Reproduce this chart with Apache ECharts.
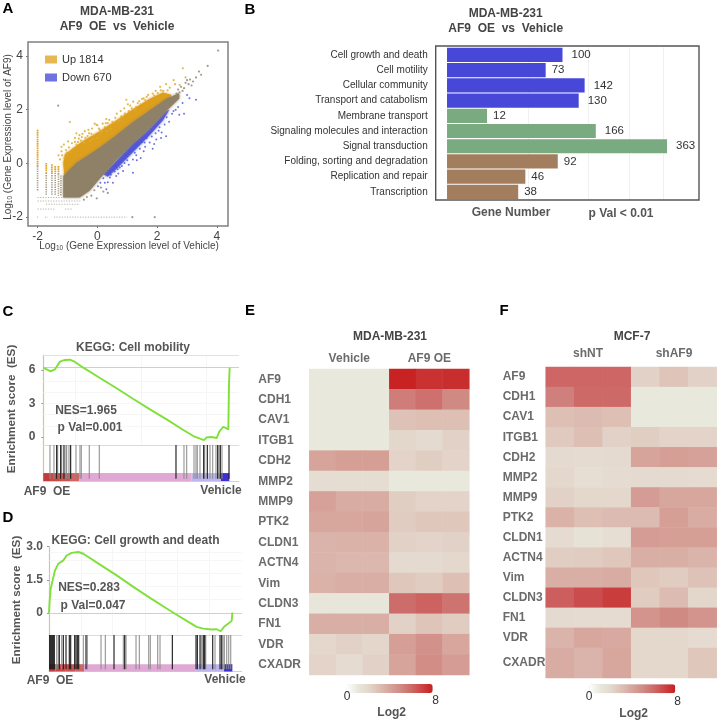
<!DOCTYPE html>
<html><head><meta charset="utf-8">
<script src="https://cdn.jsdelivr.net/npm/echarts@6/dist/echarts.min.js"></script>
<style>html,body{margin:0;padding:0;background:#fff}#c{width:718px;height:722px}</style></head>
<body><div id="c"></div>
<script>
// ---------- Panel A: dense clouds read as outlines, sparse dots read one by one
const goldCloud = [[-1.14,0.02],[-1.09,0.33],[-0.87,0.52],[-0.48,0.83],[0.08,1.2],[0.63,1.6],[1.19,2.02],[1.74,2.4],[2.19,2.64],[2.47,2.56],[2.4,2.3],[1.0,1.0],[-1.1,-0.5]];
const brownCloud = [[-1.14,-0.47],[-0.7,0.02],[-0.48,0.17],[0.08,0.58],[0.63,1.04],[1.19,1.53],[1.74,1.96],[2.3,2.4],[2.74,2.62],[2.74,2.42],[2.3,1.94],[1.74,1.28],[1.19,0.74],[0.63,0.12],[0.08,-0.57],[-0.26,-1.02],[-0.59,-1.27],[-1.14,-1.27]];
const blueCloud = [[0.2,-0.4],[1.19,0.74],[1.74,1.28],[2.3,1.94],[2.41,2.0],[2.19,1.6],[1.74,1.04],[1.19,0.42],[0.63,-0.22],[0.35,-0.5]];
const goldDots = [[-0.92,1.54],[-0.09,1.48],[-0.03,1.44],[0.3,1.65],[0.35,1.5],[0.5,1.55],[0.97,2.37],[1.02,2.2],[0.9,2.05],[1.2,2.3],[1.35,2.25],[1.5,2.4],[1.7,2.55],[1.85,2.6],[2.1,2.85],[2.2,2.7],[2.3,2.95],[2.55,3.1],[2.6,2.95],[2.86,3.54],[2.95,3.2],[-0.6,1.05],[-0.75,0.95],[-0.85,0.75],[-0.95,0.6],[-1.05,0.5],[-1.2,0.45],[-1.3,0.3],[-0.5,1.1],[-0.4,0.95],[-0.3,1.25],[-0.2,1.1],[-0.1,1.05],[0.05,1.3],[0.15,1.2],[0.25,1.35],[0.45,1.3],[0.6,1.7],[0.7,1.55],[0.8,1.75],[1.05,1.95],[1.15,2.05],[1.3,2.1],[1.45,2.2],[1.6,2.35],[1.95,2.7],[-0.65,0.8],[-0.8,0.55],[-0.55,0.85],[-1.0,0.3],[-0.25,0.85],[0.0,0.95],[0.3,1.2],[-0.9,0.42],[-0.7,0.7],[-0.45,0.78],[-0.15,0.92],[0.12,1.12],[0.42,1.42],[0.55,1.5],[0.75,1.62],[0.92,1.85],[1.28,2.0],[1.55,2.42],[2.02,2.62],[-1.25,0.15],[-1.1,0.2],[-1.2,0.62],[-1.12,0.7],[-0.98,0.82],[-0.7,1.12],[-0.62,0.92],[-0.42,1.2],[-0.33,1.02],[-0.18,1.3],[0.0,1.42],[0.18,1.48],[0.4,1.62],[0.65,1.85],[0.78,1.95],[0.85,1.72],[1.1,2.15],[1.4,2.32],[1.65,2.48],[1.9,2.52],[2.12,2.72],[2.35,2.72],[2.42,2.82],[2.75,2.92],[-1.18,0.3],[-1.02,0.4],[-0.75,0.8],[-0.52,0.98],[-0.28,1.12],[0.08,1.25],[0.28,1.5]];
const blueDots = [[2.13,0.95],[1.97,0.89],[3.3,2.37],[3.08,2.43],[2.74,1.81],[2.3,1.01],[1.19,0.15],[0.86,-0.28],[0.3,-0.96],[1.19,-0.35],[0.63,-0.47],[0.91,0.02],[0.52,-0.72],[0.42,-0.52],[0.2,-0.55],[0.1,-0.72],[0.75,-0.15],[0.7,-0.38],[1.05,-0.05],[1.3,0.3],[1.45,0.2],[1.6,0.62],[1.75,0.78],[1.85,0.55],[2.05,1.22],[2.25,1.45],[2.4,1.55],[2.55,1.95],[2.7,2.1],[2.85,2.25],[3.0,2.55],[0.95,0.3],[1.1,0.45],[1.5,0.8],[1.65,0.95],[0.6,-0.1],[0.35,-0.7],[0.02,-0.85],[2.15,1.15],[2.9,1.85],[0.45,-0.42],[0.58,-0.3],[0.82,-0.1],[1.0,0.12],[1.25,0.4],[1.42,0.55],[1.58,0.78],[1.82,1.0],[1.95,1.12],[2.08,1.35],[2.32,1.72],[2.5,1.85],[2.62,2.0],[0.25,-0.72],[0.68,-0.22],[1.32,0.12],[1.55,0.45],[1.9,0.72]];
const brownDots = [[-1.31,2.15],[4.04,4.2],[3.69,3.63],[3.47,3.3],[3.4,3.42],[3.3,3.2],[3.2,3.05],[3.1,3.12],[3.05,2.95],[2.95,3.0],[2.9,2.8],[2.8,2.85],[2.75,2.65],[2.7,2.75],[2.65,2.6],[3.0,3.1],[3.15,2.9],[2.85,2.7],[0.12,-0.9],[-0.1,-1.0],[-0.2,-1.2],[0.2,-1.05],[-0.35,-1.25],[1.17,-2.0],[1.92,-2.0],[0.35,-1.1],[-0.45,-1.35],[-0.02,-1.3]];
const columnsGold = [[-2,1.25,-0.1],[-1.71,0.02,-0.35],[-1.52,-0.03,-0.35],[-1.41,-0.1,-0.35],[-1.3,-0.1,-0.4]];
const columnsBrown = [[-2,-0.1,-1.02],[-1.71,-0.35,-1.2],[-1.52,-0.35,-1.2],[-1.41,-0.35,-1.2],[-1.3,-0.4,-1.2],[-1.22,-0.45,-1.2]];
const rowsBrown = [[-2,-1.27,-0.72],[-2,-1.4,-0.55],[-1.72,-1.52,-0.6],[-2,-1.7,-1.4],[-1.08,-1.7,-0.85],[-2.02,-2,-1.95],[-1.75,-2,-1.65],[-1.45,-2,1.0]];
const ticksA = [-2,0,2,4];
// ---------- Panel B
const pathways = ['Cell growth and death','Cell motility','Cellular community','Transport and catabolism','Membrane transport','Signaling molecules and interaction','Signal transduction','Folding, sorting and degradation','Replication and repair','Transcription'];
const geneCounts = [100,73,142,130,12,166,363,92,46,38];
const pathwayGroup = [0,0,0,0,1,1,1,2,2,2];
const barGridCounts = [50,150,250,350];
// ---------- Panels C and D (rank along the ordered gene list, enrichment score)
const curveC = [[0,6.19],[10,6.04],[22,5.86],[35,6.04],[42,6.37],[50,6.73],[65,6.88],[80,6.9],[95,6.7],[120,6.19],[170,5.27],[220,4.35],[270,3.39],[320,2.47],[370,1.58],[420,0.63],[450,0.09],[470,-0.15],[482,-0.27],[490,-0.03],[505,0],[520,-0.09],[528,0.48],[540,0.92],[555,0.68],[557,4.79],[559,6.19]];
const hitsDarkC = [40,52,62,82,398,481,492,523,531,557];
const hitsGrayC = [20,32,43,55,68,70,77,98,110,114,138,168,422,430,452,458,462,470,484,500,508,518,527,536];
const stripEdgesC = [0,20,50,80,108,445,533,558];
const curveD = [[0,0],[2,0.57],[5,1.1],[11,1.48],[18,1.93],[28,2.23],[43,2.38],[53,2.6],[68,2.72],[88,2.76],[103,2.68],[153,2.19],[203,1.7],[253,1.18],[303,0.68],[353,0.2],[383,-0.08],[413,-0.36],[443,-0.63],[463,-0.71],[488,-0.75],[503,-0.74],[515,-0.83],[525,-0.63],[538,-0.48],[548,-0.36],[550,0.02]];
const hitsDarkD = [1,4,7,10,13,16,31,43,51,61,65,77,81,85,89,111,195,227,370,441,445,453,464,467,491,513,518];
const hitsGrayD = [23,28,38,103,115,156,169,223,231,261,271,299,304,326,333,457,461,470,498,522,526,533,539,545];
const stripEdgesD = [0,20,50,80,105,440,525,550];
// ---------- Panels E and F (log2 expression)
const genes = ['AF9','CDH1','CAV1','ITGB1','CDH2','MMP2','MMP9','PTK2','CLDN1','ACTN4','Vim','CLDN3','FN1','VDR','CXADR'];
const samples = ['s1','s2','s3','s4','s5','s6'];
const matrixE = [[1,1,1,7.9,7.5,7.6],[1,1,1,5.4,5.8,5],[1,1,1,2.9,3,3],[1,1,1,2.1,1.9,2.3],[4,4.2,4.2,2.2,2.4,2.2],[1.7,1.7,1.7,1,1,1],[4.1,3.7,3.7,2.4,2.2,2.2],[3.9,3.9,4,2.5,2.7,2.7],[3.4,3.5,3.5,2.3,2.2,2.3],[3.4,3.3,3.3,1.9,1.9,2],[3.5,3.6,3.6,2.7,2.5,3],[1.1,1.1,1.1,5.9,6.2,5.7],[3.6,3.6,3.6,2.3,2.8,2.5],[2,2.3,2.1,4.2,4.7,3.9],[2.2,1.8,2.3,4,4.9,4.3]];
const matrixF = [[6.1,6.1,6.1,2.3,2.8,2.3],[5.3,6,6,1,1,1],[3,3.1,3,1,1,1],[2.6,3,2.3,2.4,2.2,2.2],[1.9,1.8,1.9,4,4.2,4.1],[2,1.6,1.8,1.9,1.9,1.8],[2.3,2,2,4.3,3.9,3.9],[3.5,3,3.1,3.1,4.2,3.7],[1.8,1.4,1.6,4.3,4.2,4.2],[2.4,2.5,2.7,3.6,3.6,3.4],[3.6,3.6,3.7,2.7,2.5,2.9],[6.3,6.8,7.2,2.5,3.1,2.1],[1.9,1.8,1.8,4.6,5,4.6],[3.4,3.9,3.8,2,2,1.8],[3.7,3.4,3.9,2,2,2.7]];

// ---------- Styles
const FONT = '"Liberation Sans", Arial, sans-serif';
const heatStops = ['#ffffff','#e8e8dc','#e4d8cd','#ddbfb4','#d6a49b','#d08a84','#cd6a68','#cb4545','#c81e1e'];
const stripPalette = ['#c23b3b','#c84848','#cc5252','#d26464','#e0a8d4','#bdb6ee','#3b2fd6'];
const barPalette = ['#4848d8','#7aab80','#a37e5e'];

const grids = [], xAxes = [], yAxes = [], series = [], graphics = [];
function addGrid(left, top, width, height, x, y, extra) {
  grids.push(Object.assign({left, top, width, height, containLabel:false}, extra || {}));
  const i = grids.length - 1;
  xAxes.push(Object.assign({gridIndex:i}, x));
  yAxes.push(Object.assign({gridIndex:i}, y));
  return i;
}
function text(x, y, str, o) {
  o = o || {};
  graphics.push({type:'text', x, y, rotation:o.rot || 0, z:50, style:{text:str, fill:o.color || '#555',
    font:(o.weight || 'bold') + ' ' + (o.size || 12) + 'px ' + FONT,
    textAlign:o.align || 'center', textVerticalAlign:'middle'}});
}
function polygonSeries(g, pts, color, z, opacity) {
  series.push({type:'custom', xAxisIndex:g, yAxisIndex:g, silent:true, z, data:[[pts[0][0], pts[0][1]]],
    renderItem:(p, api) => ({type:'polygon', shape:{points:pts.map(q => api.coord(q))}, style:{fill:color, opacity:opacity || 1, shadowBlur:3, shadowColor:color}})});
}
function segmentSeries(g, segs, color, width, dash, opacity, z) {
  series.push({type:'custom', xAxisIndex:g, yAxisIndex:g, silent:true, z, clip:true, data:segs,
    encode:{x:[0,2], y:[1,3]},
    renderItem:(p, api) => {
      const a = api.coord([api.value(0), api.value(1)]), b = api.coord([api.value(2), api.value(3)]);
      return {type:'line', shape:{x1:a[0], y1:a[1], x2:b[0], y2:b[1]}, style:{stroke:color, lineWidth:width, lineDash:dash, opacity, fill:null}};
    }});
}
function dotSeries(g, pts, color, name, size, opacity) {
  series.push({type:'scatter', name, xAxisIndex:g, yAxisIndex:g, data:pts, symbolSize:size, silent:true, z:6,
    itemStyle:{color, opacity}});
}

// ---------- A
const axisGrayA = {color:'#444', fontFamily:FONT, fontSize:12};
const gA = addGrid(28, 42, 200, 184,
  {type:'value', min:-2.32, max:4.37, splitLine:{show:false}, axisLine:{show:false, onZero:false},
   axisTick:{length:2, lineStyle:{color:'#777'}, customValues:ticksA},
   axisLabel:Object.assign({customValues:ticksA, margin:5}, axisGrayA)},
  {type:'value', min:-2.33, max:4.52, splitLine:{show:false}, axisLine:{show:false, onZero:false},
   axisTick:{length:2, lineStyle:{color:'#777'}, customValues:ticksA},
   axisLabel:Object.assign({customValues:ticksA, margin:5}, axisGrayA)},
  {show:true, borderColor:'#808080', borderWidth:1.5, backgroundColor:'#fff'});
polygonSeries(gA, goldCloud, '#dd9f1c', 2);
polygonSeries(gA, blueCloud, '#4a50d8', 2, 0.85);
polygonSeries(gA, brownCloud, '#8f8068', 3);
segmentSeries(gA, rowsBrown.map(r => [r[0], r[1], r[2], r[1]]), '#a59a88', 1, [1.2,1.4], 0.75, 3);
segmentSeries(gA, columnsGold.map(c => [c[0], c[1], c[0], c[2]]), '#dd9f1c', 1.8, [1.6,0.6], 0.95, 4);
segmentSeries(gA, columnsBrown.map(c => [c[0], c[1], c[0], c[2]]), '#9d907a', 1.6, [1.3,1], 0.9, 4);
dotSeries(gA, goldDots, '#e0ab32', 'Up 1814', 2.2, 0.85);
dotSeries(gA, blueDots, '#4a50d8', 'Down 670', 2, 0.8);
dotSeries(gA, brownDots, '#968a76', 'Unchanged', 2.2, 0.85);
text(117, 12, 'MDA-MB-231', {color:'#444'});
text(117, 27, 'AF9  OE  vs  Vehicle', {color:'#444'});
const richA = {a:{font:'10px ' + FONT, fill:'#444'}, s:{font:'6.5px ' + FONT, fill:'#444', verticalAlign:'bottom', padding:[5,0,0,0]}};
graphics.push({type:'text', x:129, y:246, z:50, style:{rich:richA,
  text:'{a|Log}{s|10}{a| (Gene Expression level of Vehicle)}', textAlign:'center', textVerticalAlign:'middle'}});
graphics.push({type:'text', x:8, y:137, rotation:Math.PI/2, z:50, style:{rich:richA,
  text:'{a|Log}{s|10}{a| (Gene Expression level of AF9)}', textAlign:'center', textVerticalAlign:'middle'}});

// ---------- B
const gB = addGrid(435.7, 47.3, 263.3, 152.2,
  {type:'value', min:-0.98, max:21.82, show:false},
  {type:'category', inverse:true, data:pathways,
   axisLine:{show:false}, axisTick:{length:5, alignWithLabel:true, lineStyle:{color:'#555'}},
   axisLabel:{color:'#333', fontFamily:FONT, fontSize:10, margin:8}});
series.push({type:'bar', xAxisIndex:gB, yAxisIndex:gB, barWidth:14.2, silent:true, z:3,
  data:geneCounts.map((v, i) => ({value:Math.sqrt(v), itemStyle:{color:barPalette[pathwayGroup[i]]},
    label:{show:true, position:'right', distance:(v >= 100 ? 9 : 6), formatter:String(v), color:'#333', fontFamily:FONT, fontSize:11.5}})),
  markLine:{silent:true, symbol:'none', z:1, label:{show:false}, lineStyle:{color:'#f0f0f0', type:'solid', width:1},
    data:barGridCounts.map(c => ({xAxis:Math.sqrt(c)}))}});
graphics.push({type:'rect', z:40, shape:{x:435.7, y:46, width:263.3, height:154}, style:{fill:null, stroke:'#555', lineWidth:1.4}});
text(505.7, 14, 'MDA-MB-231', {color:'#444'});
text(505.7, 29, 'AF9  OE  vs  Vehicle', {color:'#444'});
text(511, 213, 'Gene Number');
text(621, 214, 'p Val < 0.01');

// ---------- C and D
function gsea(o) {
  const xMax = o.xMax;
  const g1 = addGrid(o.left, o.top, o.width, o.midY - o.top,
    {type:'value', min:0, max:xMax, axisLabel:{show:false}, axisTick:{show:false}, splitLine:{show:false}, axisLine:{onZero:false, lineStyle:{color:'#dcdcdc', width:1}}},
    {type:'value', min:o.yMin, max:o.yMax, splitLine:{show:false},
     axisLine:{show:true, onZero:false, lineStyle:{color:'#c9c6ae', width:1.2}}, axisTick:{show:true, length:2, lineStyle:{color:'#999'}, customValues:o.ticks},
     axisLabel:{customValues:o.ticks, formatter:o.fmt, color:'#555', fontWeight:'bold', fontFamily:FONT, fontSize:12, margin:o.margin}});
  const faint = {color:'#e8e8e8', type:'dotted', width:0.8};
  series.push({type:'line', xAxisIndex:g1, yAxisIndex:g1, data:o.curve, showSymbol:false, silent:true, z:5,
    lineStyle:{color:'#7fe03a', width:1.9},
    markLine:{silent:true, symbol:'none', z:1, label:{show:false},
      data:o.gridY.map(v => ({yAxis:v, lineStyle:faint})).concat(o.gridX.map(v => ({xAxis:v, lineStyle:faint})),
        [{yAxis:o.refY, lineStyle:{color:'#cfcfcf', width:1.2, type:'solid'}}], o.topY ? [{yAxis:o.topY, lineStyle:{color:'#e2e2e2', width:1.2, type:'solid'}}] : [])}});
  const g2 = addGrid(o.left, o.midY, o.width, o.stripBottom - o.midY,
    {type:'value', min:0, max:xMax, axisLabel:{show:false}, axisTick:{show:false}, splitLine:{show:false}, axisLine:{onZero:false, lineStyle:{color:'#d0d0d0', width:1}}},
    {type:'value', min:0, max:1, axisLabel:{show:false}, axisTick:{show:false}, splitLine:{show:false}, axisLine:{show:true, onZero:false, lineStyle:{color:'#c9c6ae', width:1.2}}});
  const edges = o.edges;
  series.push({type:'custom', xAxisIndex:g2, yAxisIndex:g2, silent:true, z:2, data:edges.slice(0, -1).map((e, i) => [e, edges[i + 1], i]),
    encode:{x:[0,1]},
    renderItem:(p, api) => {
      const a = api.coord([api.value(0), o.stripTop]), b = api.coord([api.value(1), 0]);
      return {type:'rect', shape:{x:a[0], y:a[1], width:b[0] - a[0], height:b[1] - a[1]}, style:{fill:stripPalette[api.value(2)]}};
    }});
  segmentSeries(g2, o.hitsGray.map(h => [h, 0.06, h, 1]), '#8a8a8a', 1.2, null, 0.85, 3);
  segmentSeries(g2, o.hitsDark.map(h => [h, 0.06, h, 1]), '#1c1c1c', 1.2, null, 0.95, 4);
}
gsea({left:43.3, top:355, width:195.7, midY:445, stripBottom:481, xMax:587, yMin:-0.71, yMax:7.32, ticks:[0,3,6], margin:8,
  fmt:v => String(v), curve:curveC, gridY:[1,2,3,4,5], gridX:[97,295,490], refY:6.19, topY:7.28, edges:stripEdgesC, stripTop:0.22, hitsDark:hitsDarkC, hitsGray:hitsGrayC});
gsea({left:49, top:546.7, width:192.7, midY:635, stripBottom:671.5, xMax:578, yMin:-1.0, yMax:3.0, ticks:[0,1.5,3], margin:6,
  fmt:v => (v === 0 ? '0' : v.toFixed(1)), curve:curveD, gridY:[0.6,1.2,1.8,2.4,2.75], gridX:[96,191,288,385,481], refY:0, edges:stripEdgesD, stripTop:0.2, hitsDark:hitsDarkD, hitsGray:hitsGrayD});
text(133, 348, 'KEGG: Cell mobility');
text(135.5, 541, 'KEGG: Cell growth and death');
text(12, 409, 'Enrichment score  (ES)', {rot:Math.PI/2, size:11.7});
text(17, 600, 'Enrichment score  (ES)', {rot:Math.PI/2, size:11.7});
text(86, 410.5, 'NES=1.965');
text(90, 428, 'p Val=0.001');
text(89, 587.5, 'NES=0.283');
text(93, 605.5, 'p Val=0.047');
text(47, 491.5, 'AF9  OE');
text(221, 491, 'Vehicle');
text(50, 680.5, 'AF9  OE');
text(225, 680, 'Vehicle');

// ---------- E and F
const heatIdx = {E:[], F:[]};
function heat(key, left, top, width, height, rowNames, matrix, margin) {
  const g = addGrid(left, top, width, height,
    {type:'category', data:samples, show:false},
    {type:'category', inverse:true, data:rowNames, axisLine:{show:false}, axisTick:{show:false}, splitLine:{show:false},
     axisLabel:{align:'left', margin, color:'#6b6b6b', fontWeight:'bold', fontFamily:FONT, fontSize:12}});
  const data = [];
  matrix.forEach((row, r) => row.forEach((v, c) => data.push([c, r, v])));
  heatIdx[key].push(series.length);
  series.push({type:'heatmap', xAxisIndex:g, yAxisIndex:g, data, silent:true, progressive:0, z:2});
}
heat('E', 309.3, 369, 160, 306, genes, matrixE, 51);
heat('F', 545.7, 367, 171, 281, genes.slice(0, 14), matrixF.slice(0, 14), 43);
heat('F', 545.7, 648, 171, 30, genes.slice(14), matrixF.slice(14), 43);
const vm = (idx, left, top) => ({type:'continuous', seriesIndex:idx, min:0, max:8, orient:'horizontal', left, top, padding:0,
  itemWidth:9, itemHeight:86, calculable:false, text:null, showLabel:false, inRange:{color:heatStops}, textStyle:{color:'transparent'}});
text(390, 336.7, 'MDA-MB-231', {color:'#444'});
text(349.3, 359, 'Vehicle', {color:'#6b6b6b'});
text(429.3, 359, 'AF9 OE', {color:'#6b6b6b'});
text(632, 336.7, 'MCF-7', {color:'#444'});
text(588, 354, 'shNT', {color:'#6b6b6b'});
text(674, 354, 'shAF9', {color:'#6b6b6b'});
text(347, 696.7, '0', {color:'#333', weight:'normal'});
text(435.7, 701, '8', {color:'#333', weight:'normal'});
text(391.7, 713, 'Log2');
text(589, 697, '0', {color:'#333', weight:'normal'});
text(677.7, 702, '8', {color:'#333', weight:'normal'});
text(633.7, 714, 'Log2');

[['A',8,9],['B',250,10],['C',8,312],['D',8,518],['E',250,311],['F',504,311]].forEach(l =>
  text(l[1], l[2], l[0], {color:'#000', size:15}));

const chart = echarts.init(document.getElementById('c'), null, {renderer:'canvas'});
chart.setOption({
  animation:false, backgroundColor:'#fff', textStyle:{fontFamily:FONT},
  grid:grids, xAxis:xAxes, yAxis:yAxes, series, graphic:{elements:graphics},
  legend:{left:45, top:54, orient:'vertical', itemWidth:12, itemHeight:8, itemGap:7, padding:0, selectedMode:false, icon:'rect',
    data:['Up 1814','Down 670'], textStyle:{color:'#333', fontFamily:FONT, fontSize:11}},
  visualMap:[vm(heatIdx.E, 346.7, 684), vm(heatIdx.F, 589.3, 684.3)]
});
</script></body></html>
